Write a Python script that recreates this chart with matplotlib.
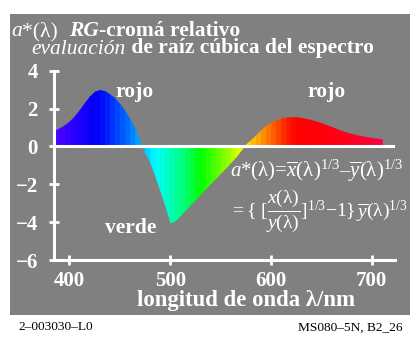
import matplotlib
matplotlib.use("Agg")
import matplotlib.pyplot as plt
import numpy as np
from matplotlib.colors import to_rgb
from matplotlib.offsetbox import TextArea, HPacker, AnnotationBbox
from matplotlib.patches import Rectangle

plt.rcParams["font.family"] = ["Liberation Serif", "DejaVu Serif"]
plt.rcParams["mathtext.fontset"] = "custom"
plt.rcParams["mathtext.rm"] = "Liberation Serif"
plt.rcParams["mathtext.it"] = "Liberation Serif:italic"
plt.rcParams["mathtext.bf"] = "Liberation Serif:bold"

# a*(lambda), 5 nm steps
WAVELENGTH = [385, 390, 395, 400, 405, 410, 415, 420, 425, 430,
              435, 440, 445, 450, 455, 460, 465, 470, 475, 480,
              485, 490, 495, 500, 505, 510, 515, 520, 525, 530,
              535, 540, 545, 550, 555, 560, 565, 570, 575, 580,
              585, 590, 595, 600, 605, 610, 615, 620, 625, 630,
              635, 640, 645, 650, 655, 660, 665, 670, 675, 680,
              685, 690, 695, 700, 705, 710]
A_STAR = [0.83, 0.97, 1.12, 1.33, 1.60, 1.93, 2.30, 2.65, 2.90, 2.99,
          2.93, 2.76, 2.55, 2.25, 1.88, 1.43, 0.95, 0.25, -0.32, -0.85,
          -1.55, -2.33, -3.13, -4.02, -3.90, -3.64, -3.34, -3.06, -2.80, -2.50,
          -2.22, -1.94, -1.67, -1.39, -1.12, -0.83, -0.54, -0.20, 0.12, 0.35,
          0.60, 0.87, 1.10, 1.28, 1.40, 1.49, 1.54, 1.56, 1.55, 1.51,
          1.46, 1.40, 1.32, 1.24, 1.14, 1.03, 0.93, 0.83, 0.74, 0.67,
          0.60, 0.55, 0.50, 0.46, 0.42, 0.39]

X_TICKS = [400, 500, 600, 700]
Y_TICKS = [-6, -4, -2, 0, 2, 4]

# spectral colours used for the strips
SPEC_NM = [385, 400, 415, 425, 435, 445, 455, 465, 470, 478, 485, 495,
           505, 515, 525, 530, 545, 560, 570, 575, 585, 595, 605, 615,
           625, 660, 710]
SPEC_HEX = ["#5000ff", "#3000ff", "#1400ff", "#0000f5", "#0010ff", "#0040ff",
            "#0060ff", "#0090ff", "#00b0ff", "#00d8ff", "#00ffff", "#00ffd0",
            "#00ffa0", "#00ff70", "#00ff20", "#00ff00", "#50ff00", "#a8ff00",
            "#f0ff00", "#ffe000", "#ffb000", "#ff8000", "#ff5000", "#ff2000",
            "#ff0000", "#ff0010", "#ff0040"]

GRAY = "#808080"
W, H = 413, 339


def spectral(wl):
    rgb = np.array([to_rgb(c) for c in SPEC_HEX])
    return tuple(float(np.interp(wl, SPEC_NM, rgb[:, k])) for k in range(3))


def px(x, y):
    return x / W, 1 - y / H


fig = plt.figure(figsize=(W / 100, H / 100), dpi=100, facecolor="white")
fig.add_artist(Rectangle(px(10, 315), 400 / W, 301 / H, transform=fig.transFigure,
                         facecolor=GRAY, edgecolor="none", zorder=-5))

ax = fig.add_axes([54.3 / W, 1 - 260 / H, (395 - 54.3) / W, (260 - 70.7) / H])
ax.patch.set_visible(False)
ax.set_xlim(385, 723)
ax.set_ylim(-6, 4)

for i in range(len(WAVELENGTH) - 1):
    x0, x1 = WAVELENGTH[i], WAVELENGTH[i + 1]
    c = spectral(0.5 * (x0 + x1))
    ax.fill_between([x0, x1], [A_STAR[i], A_STAR[i + 1]], 0,
                    facecolor=c, edgecolor=c, lw=0.4)

ax.axhline(0, color="white", lw=2.2, zorder=3)

for s in ("top", "right"):
    ax.spines[s].set_visible(False)
for s in ("left", "bottom"):
    ax.spines[s].set_color("white")
    ax.spines[s].set_linewidth(2.2)

ax.set_xticks(X_TICKS)
ax.set_yticks(Y_TICKS)
ax.tick_params(direction="inout", length=7.5, width=2, color="white",
               labelcolor="white", labelsize=15)
ax.tick_params(axis="x", pad=4)
ax.tick_params(axis="y", pad=8)
for lab in ax.get_xticklabels() + ax.get_yticklabels():
    lab.set_fontweight("bold")

lbl = dict(color="white", fontsize=15.5, fontweight="bold", va="baseline")
fig.text(*px(115, 97), "rojo", **lbl)
fig.text(*px(307, 97), "rojo", **lbl)
fig.text(*px(105, 233), "verde", **lbl)
fig.text(*px(246, 306), "longitud de onda λ/nm", ha="center", color="white",
         fontsize=16.4, fontweight="bold", va="baseline")

# formula on the right
fig.text(*px(230, 177), r"$a$*(λ)=$\overline{x}$(λ)$^{1/3}$–$\overline{y}$(λ)$^{1/3}$",
         color="white", fontsize=15, va="baseline")
fig.text(*px(230, 217), r"$=\{\ [\dfrac{x(\mathrm{\lambda})}{y(\mathrm{\lambda})}]^{1/3}"
         r"{-}1\}\,\overline{y}(\mathrm{\lambda})^{1/3}$", color="white", fontsize=14, va="baseline")

# two-line title built from mixed-style pieces
def title_line(pieces, x, y):
    areas = [TextArea(t, textprops=dict(color="white", fontsize=15.5, **st)) for t, st in pieces]
    box = HPacker(children=areas, align="baseline", pad=0, sep=0)
    fig.add_artist(AnnotationBbox(box, px(x, y), xycoords="figure fraction",
                                  box_alignment=(0, 0), frameon=False, pad=0))

title_line([("a", dict(style="italic")), ("*(λ)  ", {}),
            ("RG", dict(style="italic", fontweight="bold")),
            ("-cromá relativo", dict(fontweight="bold"))], 11.5, 41)
title_line([("evaluación", dict(style="italic")),
            (" de raíz cúbica del espectro", dict(fontweight="bold"))], 31.5, 58.5)

fig.text(*px(18, 330.5), "2–003030–L0", fontsize=9.6, color="black", va="baseline")
fig.text(*px(403, 330.5), "MS080–5N, B2_26", fontsize=9.6, color="black", va="baseline", ha="right")

fig.savefig("out.png", dpi=100, facecolor="white")
